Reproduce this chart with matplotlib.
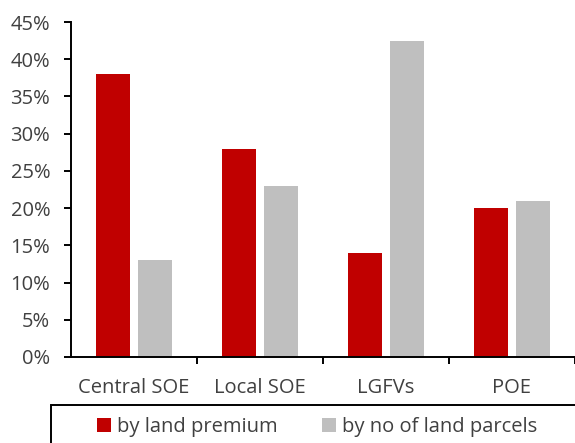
import matplotlib
matplotlib.use("Agg")
import matplotlib.pyplot as plt
from matplotlib.patches import Rectangle
from matplotlib.ticker import PercentFormatter
import numpy as np

categories = ["Central SOE", "Local SOE", "LGFVs", "POE"]
land_premium = [38.0, 28.0, 14.0, 20.0]
land_parcels = [13.0, 23.0, 42.5, 21.0]
series_labels = ["by land premium", "by no of land parcels"]
y_ticks = [0, 5, 10, 15, 20, 25, 30, 35, 40, 45]

RED = "#C00000"
GREY = "#BFBFBF"
TEXT = "#404040"
FS = 14.5

plt.rcParams["font.family"] = ["Open Sans", "DejaVu Sans"]
plt.rcParams["font.size"] = FS

W, H = 575, 443
fig = plt.figure(figsize=(W / 100, H / 100), dpi=100)
ax = fig.add_axes([71 / W, 86 / H, (575 - 71) / W, (357 - 22) / H])

x = np.arange(len(categories))
width = 0.27
off = 0.168
ax.bar(x - off, land_premium, width, color=RED, label=series_labels[0], zorder=2)
ax.bar(x + off, land_parcels, width, color=GREY, label=series_labels[1], zorder=2)

ax.set_xlim(-0.5, len(categories) - 0.5)
ax.set_ylim(0, 45)
ax.set_yticks(y_ticks)
ax.yaxis.set_major_formatter(PercentFormatter(decimals=0))

ax.set_xticks(x)
ax.set_xticklabels(categories)
ax.set_xticks(np.arange(len(categories)) + 0.5, minor=True)
ax.tick_params(axis="x", which="major", length=0, pad=15, colors=TEXT, labelsize=FS)
ax.tick_params(axis="x", which="minor", length=5, width=1.4, direction="out", color="black")
ax.tick_params(axis="y", length=5, width=1.4, direction="out", color="black",
               labelcolor=TEXT, labelsize=FS, pad=10)

for s in ("top", "right"):
    ax.spines[s].set_visible(False)
for s in ("left", "bottom"):
    ax.spines[s].set_linewidth(1.4)
    ax.spines[s].set_color("black")
    ax.spines[s].set_clip_on(False)

# legend box running off the bottom-right edge
fig.patches.append(Rectangle((51 / W, -0.1), 1.0, (443 - 405) / H + 0.1,
                             transform=fig.transFigure, fill=False,
                             edgecolor="black", linewidth=1.4))
handles, labels = ax.get_legend_handles_labels()
leg = fig.legend(handles, labels, loc="center left",
                 bbox_to_anchor=(97 / W, 1 - 427 / H), ncol=2, frameon=False,
                 handlelength=0.7, handleheight=0.7, handletextpad=0.3,
                 columnspacing=2.2, borderaxespad=0, borderpad=0,
                 fontsize=FS, labelcolor=TEXT)

fig.savefig("out.png", dpi=100)
